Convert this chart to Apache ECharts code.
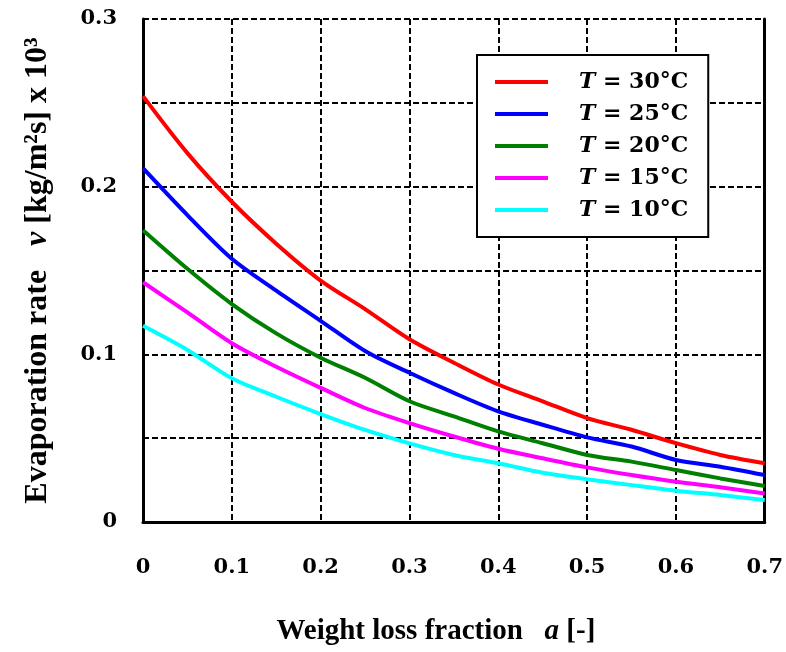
<!DOCTYPE html>
<html>
<head>
<meta charset="utf-8">
<script src="https://cdn.jsdelivr.net/npm/echarts@6/dist/echarts.min.js"></script>
<style>html,body{margin:0;padding:0;background:#fff;}#c{width:786px;height:652px;}</style>
</head>
<body>
<div id="c"></div>
<script>
const aValues = [0, 0.05, 0.1, 0.15, 0.2, 0.25, 0.3, 0.35, 0.4, 0.45, 0.5, 0.55, 0.6, 0.65, 0.7];
const t30 = [0.254, 0.220, 0.191, 0.166, 0.144, 0.127, 0.109, 0.095, 0.082, 0.072, 0.062, 0.055, 0.047, 0.040, 0.035];
const t25 = [0.211, 0.183, 0.157, 0.138, 0.120, 0.102, 0.089, 0.077, 0.066, 0.058, 0.0505, 0.045, 0.037, 0.033, 0.028];
const t20 = [0.174, 0.151, 0.130, 0.1125, 0.098, 0.086, 0.072, 0.063, 0.054, 0.047, 0.040, 0.036, 0.031, 0.026, 0.0215];
const t15 = [0.143, 0.125, 0.1066, 0.0926, 0.080, 0.068, 0.059, 0.051, 0.0437, 0.038, 0.0326, 0.028, 0.024, 0.0207, 0.017];
const t10 = [0.117, 0.1026, 0.0857, 0.0747, 0.0644, 0.0549, 0.0469, 0.040, 0.035, 0.0294, 0.0255, 0.022, 0.0187, 0.0161, 0.0131];
const seriesNames = ['T = 30°C', 'T = 25°C', 'T = 20°C', 'T = 15°C', 'T = 10°C'];
const seriesColors = ['#ff0000', '#0000ff', '#008000', '#ff00ff', '#00ffff'];
const seriesValues = [t30, t25, t20, t15, t10];

const xTitle = 'Weight loss fraction';
const yTitle = 'Evaporation rate';

const chart = echarts.init(document.getElementById('c'));
const tickFont = {fontFamily: 'DejaVu Serif', fontWeight: 'bold', fontSize: 21, color: '#000'};
const grid = {color: '#000', type: [6, 3], width: 2};

chart.setOption({
  animation: false,
  backgroundColor: '#fff',
  grid: {left: 143, right: 20, top: 19, bottom: 130},
  legend: {
    orient: 'vertical',
    left: 477, top: 55,
    backgroundColor: '#fff',
    borderColor: '#000', borderWidth: 2, borderRadius: 0,
    padding: [14, 20, 14, 18],
    icon: 'rect',
    itemWidth: 53, itemHeight: 4, itemGap: 6,
    data: seriesNames,
    formatter: function (name) { return '{s|}{i|T}{n|' + name.slice(1) + '}'; },
    textStyle: {
      lineHeight: 26,
      rich: {
        s: {width: 26},
        i: {fontFamily: 'DejaVu Serif', fontStyle: 'italic', fontWeight: 'bold', fontSize: 22, color: '#000'},
        n: {fontFamily: 'DejaVu Serif', fontWeight: 'bold', fontSize: 22, color: '#000'}
      }
    }
  },
  xAxis: {
    type: 'value', min: 0, max: 0.7, interval: 0.1,
    axisLine: {show: true, lineStyle: {color: '#000', width: 3}},
    axisTick: {show: false},
    splitLine: {show: true, lineStyle: grid},
    axisLabel: Object.assign({margin: 35, formatter: function (v) { return v === 0 ? '0' : v.toFixed(1); }}, tickFont),
    name: '{t|' + xTitle + '   }{i|a}{t| [-]}',
    nameLocation: 'middle', nameGap: 95,
    nameTextStyle: {
      padding: [0, 36, 0, 0],
      rich: {
        t: {fontFamily: 'Liberation Serif', fontWeight: 'bold', fontSize: 29, color: '#000'},
        i: {fontFamily: 'Liberation Serif', fontWeight: 'bold', fontStyle: 'italic', fontSize: 29, color: '#000'}
      }
    }
  },
  yAxis: [{
    type: 'value', min: 0, max: 0.3, interval: 0.05,
    axisLine: {show: true, onZero: false, lineStyle: {color: '#000', width: 3}},
    axisTick: {show: false},
    splitLine: {show: true, lineStyle: grid},
    axisLabel: Object.assign({margin: 26, formatter: function (v) {
      const r = Math.round(v * 10);
      if (Math.abs(v * 10 - r) > 1e-6) return '';
      return r === 0 ? '0' : (r / 10).toFixed(1);
    }}, tickFont),
    name: '{t|' + yTitle + '   }{i|v}{t| [kg/m²s] x 10³}',
    nameLocation: 'middle', nameGap: 89, nameRotate: 90,
    nameTextStyle: {
      rich: {
        t: {fontFamily: 'Liberation Serif', fontWeight: 'bold', fontSize: 32, color: '#000'},
        i: {fontFamily: 'Liberation Serif', fontWeight: 'bold', fontStyle: 'italic', fontSize: 32, color: '#000'}
      }
    }
  }, {
    type: 'value', min: 0, max: 0.3, position: 'right',
    axisLine: {show: true, onZero: false, lineStyle: {color: '#000', width: 3}},
    axisTick: {show: false}, axisLabel: {show: false}, splitLine: {show: false}
  }],
  series: seriesNames.map(function (n, k) {
    return {
      name: n, type: 'line', symbol: 'none', smooth: 0.3,
      color: seriesColors[k],
      lineStyle: {width: 4, color: seriesColors[k]},
      data: aValues.map(function (a, j) { return [a, seriesValues[k][j]]; })
    };
  })
});
</script>
</body>
</html>
